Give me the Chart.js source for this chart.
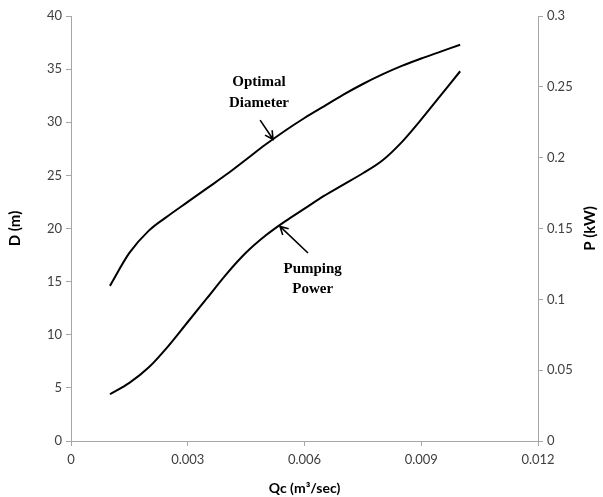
<!DOCTYPE html>
<html>
<head>
<meta charset="utf-8">
<script src="https://cdn.jsdelivr.net/npm/chart.js"></script>
<style>
  html, body { margin: 0; padding: 0; background: #fff; }
  #wrap { width: 603px; height: 497px; }
</style>
</head>
<body>
<div id="wrap"><canvas id="grafico" width="603" height="497"></canvas></div>
<script>
// Datos (Qc en m3/s, D en m, P en kW)
const caudales = [0.001, 0.0015, 0.002, 0.0025, 0.003, 0.0035, 0.004, 0.0045, 0.005, 0.0055,
                  0.006, 0.0065, 0.007, 0.0075, 0.008, 0.0085, 0.009, 0.0095, 0.010];
const diametro = [14.6, 17.7, 19.8, 21.2, 22.5, 23.8, 25.1, 26.5, 27.9, 29.2,
                  30.4, 31.5, 32.6, 33.6, 34.5, 35.3, 36.0, 36.65, 37.3];
const potencia = [0.033, 0.041, 0.052, 0.067, 0.084, 0.101, 0.118, 0.133, 0.145, 0.155,
                  0.164, 0.173, 0.181, 0.189, 0.198, 0.211, 0.227, 0.244, 0.261];
const ticksX = ['0', '0.003', '0.006', '0.009', '0.012'];
const ticksD = ['0', '5', '10', '15', '20', '25', '30', '35', '40'];
const ticksP = ['0', '0.05', '0.1', '0.15', '0.2', '0.25', '0.3'];

// Etiquetas con flecha: texto y punto de la curva al que apuntan
const notas = [
  { lineas: ['Optimal', 'Diameter'], eje: 'y', punta: [0.00519, 28.4], cola: [0.00486, 30.2], texto: [0.00483, 33.8], salto: 21 },
  { lineas: ['Pumping', 'Power'], eje: 'y1', punta: [0.00537, 0.1515], cola: [0.00609, 0.1327], texto: [0.00621, 0.1215], salto: 20 }
];

const fuenteEje = "'Lato', 'Open Sans', sans-serif";
const colorEje = '#a6a6a6';

// Plugin sencillo para dibujar las notas con flecha y el título del eje derecho
const notasPlugin = {
  id: 'notas',
  afterDatasetsDraw(chart) {
    const ctx = chart.ctx;
    const sx = chart.scales.x;
    ctx.save();
    notas.forEach(n => {
      const sy = chart.scales[n.eje];
      const px = sx.getPixelForValue(n.punta[0]), py = sy.getPixelForValue(n.punta[1]);
      const cx = sx.getPixelForValue(n.cola[0]), cy = sy.getPixelForValue(n.cola[1]);
      ctx.strokeStyle = '#000';
      ctx.lineWidth = 1.6;
      ctx.beginPath();
      ctx.moveTo(cx, cy);
      ctx.lineTo(px, py);
      const ang = Math.atan2(py - cy, px - cx);
      const L = 9;
      ctx.moveTo(px - L * Math.cos(ang - 0.5), py - L * Math.sin(ang - 0.5));
      ctx.lineTo(px, py);
      ctx.lineTo(px - L * Math.cos(ang + 0.5), py - L * Math.sin(ang + 0.5));
      ctx.stroke();

      ctx.fillStyle = '#000';
      ctx.font = "bold 15px 'Liberation Serif', 'Times New Roman', serif";
      ctx.textAlign = 'center';
      ctx.textBaseline = 'middle';
      const tx = sx.getPixelForValue(n.texto[0]), ty = sy.getPixelForValue(n.texto[1]);
      n.lineas.forEach((l, i) => ctx.fillText(l, tx, ty + i * n.salto));
    });

    // título del eje derecho, leído de abajo hacia arriba
    const area = chart.chartArea;
    ctx.translate(area.right + 52, (area.top + area.bottom) / 2);
    ctx.rotate(-Math.PI / 2);
    ctx.font = 'bold 15px ' + fuenteEje;
    ctx.textAlign = 'center';
    ctx.textBaseline = 'middle';
    ctx.fillText('P (kW)', 0, 0);
    ctx.restore();
  }
};

function ejeY(pos, min, max, paso, etiquetas, titulo, ancho) {
  return {
    type: 'linear',
    position: pos,
    min: min, max: max,
    afterFit: s => { s.width = ancho; },
    ticks: {
      stepSize: paso,
      color: '#404040',
      font: { family: fuenteEje, size: 13 },
      padding: 4,
      callback: (v, i) => etiquetas[i]
    },
    grid: { display: true, drawOnChartArea: false, drawTicks: true, tickLength: 5, color: colorEje },
    border: { display: true, color: colorEje, width: 1 },
    title: {
      display: titulo !== '', text: titulo, color: '#000',
      font: { family: fuenteEje, size: 15, weight: 'bold' },
      padding: { top: 6, bottom: 0 }
    }
  };
}

new Chart(document.getElementById('grafico').getContext('2d'), {
  type: 'line',
  data: {
    labels: caudales,
    datasets: [
      { label: 'Optimal Diameter', data: caudales.map((q, i) => ({ x: q, y: diametro[i] })), yAxisID: 'y',
        borderColor: '#000', borderWidth: 2, pointRadius: 0, cubicInterpolationMode: 'monotone', fill: false },
      { label: 'Pumping Power', data: caudales.map((q, i) => ({ x: q, y: potencia[i] })), yAxisID: 'y1',
        borderColor: '#000', borderWidth: 2, pointRadius: 0, cubicInterpolationMode: 'monotone', fill: false }
    ]
  },
  options: {
    responsive: false,
    animation: false,
    layout: { padding: { top: 16, right: 20, left: 0, bottom: 0 } },
    plugins: { legend: { display: false }, tooltip: { enabled: false } },
    scales: {
      x: {
        type: 'linear', min: 0, max: 0.012,
        afterFit: s => { s.height = 56; },
        ticks: {
          stepSize: 0.003, color: '#404040', padding: 6,
          font: { family: fuenteEje, size: 13 },
          callback: (v, i) => ticksX[i]
        },
        grid: { display: true, drawOnChartArea: false, drawTicks: true, tickLength: 5, color: colorEje },
        border: { display: true, color: colorEje, width: 1 },
        title: {
          display: true, text: 'Qc (m³/sec)', color: '#000',
          font: { family: fuenteEje, size: 14, weight: 'bold' },
          padding: { top: 0, bottom: 0 }
        }
      },
      y: ejeY('left', 0, 40, 5, ticksD, 'D (m)', 71),
      y1: ejeY('right', 0, 0.3, 0.05, ticksP, '', 45)
    }
  },
  plugins: [notasPlugin]
});
</script>
</body>
</html>
